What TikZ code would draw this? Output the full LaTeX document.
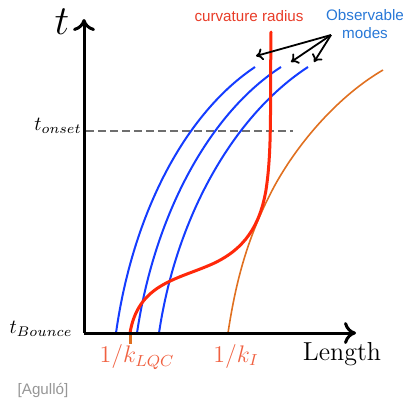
\documentclass[tikz,border=0pt]{standalone}
\usepackage{amsmath}
\usepackage{xcolor}
\usepackage{fontspec}
\setsansfont{Liberation Sans}
\usepackage{tikz}
\usetikzlibrary{arrows.meta,positioning,calc}
\definecolor{axisBlack}{RGB}{0,0,0}
\definecolor{radiusRed}{RGB}{255,40,10}
\definecolor{radiusText}{RGB}{232,60,40}
\definecolor{modeBlue}{RGB}{20,60,255}
\definecolor{modeText}{RGB}{40,120,215}
\definecolor{scaleOrange}{RGB}{224,112,32}
\definecolor{labelOrange}{RGB}{240,96,64}
\definecolor{onsetGray}{RGB}{110,110,110}
\definecolor{citeGray}{RGB}{150,150,150}
\tikzset{
  axisArrow/.style={-{To[length=6pt,width=11pt,line width=1.5pt]}, line width=1.5pt, color=axisBlack},
  modeCurve/.style={line width=1pt, color=modeBlue},
  radiusCurve/.style={line width=1.5pt, color=radiusRed, line cap=round},
  scaleCurve/.style={line width=0.8pt, color=scaleOrange},
  pointArrow/.style={-{To[length=3.5pt,width=6pt]}, line width=0.9pt, color=axisBlack},
  sanslabel/.style={font=\sffamily\fontsize{7.6}{8.6}\selectfont, align=center, inner sep=0pt},
  mathlabel/.style={inner sep=0pt, font=\large}
}
\begin{document}
\begin{tikzpicture}[x=0.5pt, y=-0.5pt]
  \useasboundingbox (0,0) rectangle (406,397);
  \coordinate (o) at (84,333);
  \coordinate (ytip) at (84,19);
  \coordinate (xtip) at (356,333);
  % onset line
  \coordinate (onsetL) at (86,131);
  \coordinate (onsetR) at (293,131);
  \draw[onsetGray, line width=1pt, dash pattern=on 4pt off 2pt] (onsetL) -- (onsetR);
  % modes
  \draw[modeCurve] (116,333) .. controls (133,212) and (186,113) .. (255,67);
  \draw[modeCurve] (137,333) .. controls (155,212) and (211,112) .. (281,67);
  \draw[modeCurve] (159,333) .. controls (177,212) and (237,113) .. (308,67);
  % horizon scale
  \draw[scaleCurve] (228,333) .. controls (236,280) and (248,235) .. (275,185)
    .. controls (300,140) and (340,95) .. (383,70);
  % curvature radius
  \draw[radiusCurve] (271,32) .. controls (270,110) and (272,150) .. (266,190)
    .. controls (260,225) and (245,250) .. (210,265)
    .. controls (175,280) and (138,285) .. (130,333);
  \draw[scaleOrange, line width=1.5pt] (130,333) -- (130,344);
  % axes
  \draw[axisArrow] (o) -- (ytip);
  \draw[axisArrow] (o) -- (xtip);
  % labels
  \node[inner sep=0pt, font=\fontsize{20}{22}\selectfont] (tlab) at (62,22) {$t$};
  \node[inner sep=0pt, font=\normalsize] (onset) at (58,126) {$t_{onset}$};
  \node[inner sep=0pt, font=\normalsize] (bounce) at (41,329) {$t_{Bounce}$};
  \node[mathlabel, text=labelOrange] (kLQC) at (137,357) {$1/k_{LQC}$};
  \node[mathlabel, text=labelOrange] (kI) at (236,356) {$1/k_I$};
  \node[inner sep=0pt, font=\fontsize{13}{15}\selectfont] (length) at (342,354) {Length};
  \node[sanslabel, text=radiusText] (radius) at (249,16) {curvature radius};
  \node[sanslabel, text=modeText] (obs) at (365,24) {Observable\\modes};
  \node[sanslabel, text=citeGray] (cite) at (43,390) {[Agull\'o]};
  % pointers
  \coordinate (obsfoot) at (331,35);
  \coordinate (m1) at (256,56);
  \coordinate (m2) at (291,62);
  \coordinate (m3) at (314,62);
  \draw[pointArrow] (obsfoot) -- (m1);
  \draw[pointArrow] (obsfoot) -- (m2);
  \draw[pointArrow] (obsfoot) -- (m3);
\end{tikzpicture}
\end{document}
